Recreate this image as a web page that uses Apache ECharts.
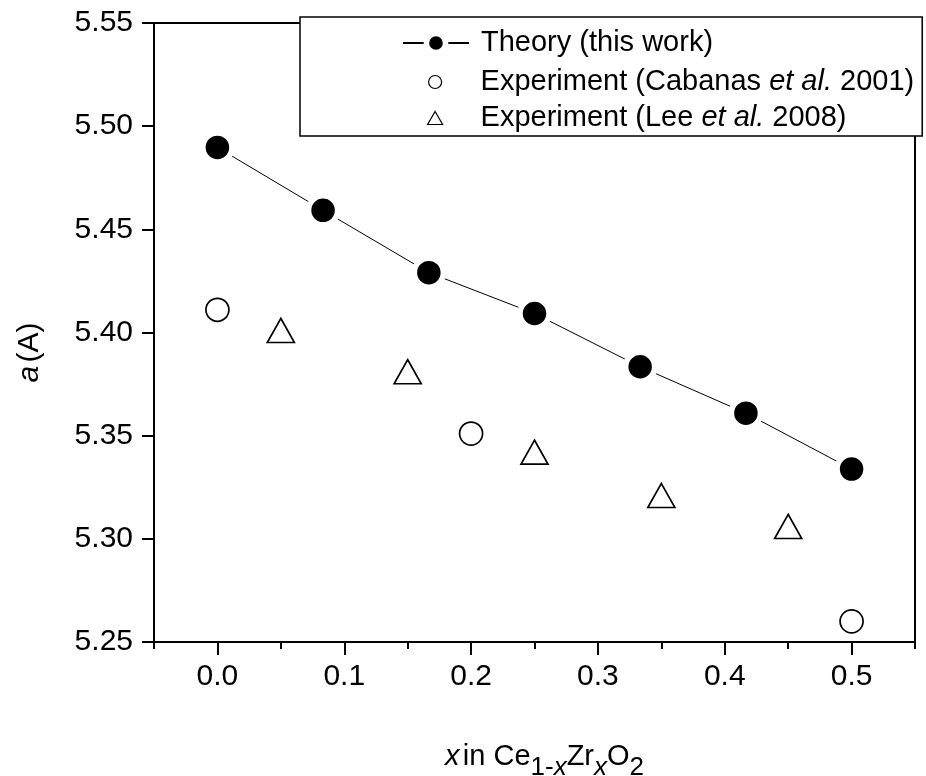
<!DOCTYPE html>
<html>
<head>
<meta charset="utf-8">
<script src="https://cdn.jsdelivr.net/npm/echarts@6/dist/echarts.min.js"></script>
<style>
html,body{margin:0;padding:0;background:#fff;}
#chart{width:926px;height:776px;}
</style>
</head>
<body>
<div id="chart"></div>
<script>
// ---- data ----
const theoryX = [0, 0.0833, 0.1667, 0.25, 0.3333, 0.4167, 0.5];
const theoryY = [5.4897, 5.4592, 5.4290, 5.4092, 5.3834, 5.3609, 5.3338];
const cabanasX = [0, 0.2, 0.5];
const cabanasY = [5.411, 5.351, 5.260];
const leeX = [0.05, 0.15, 0.25, 0.35, 0.45];
const leeY = [5.401, 5.381, 5.342, 5.321, 5.306];
const xMajorTicks = [0, 0.1, 0.2, 0.3, 0.4, 0.5];
const xMinorTicks = [-0.05, 0.05, 0.15, 0.25, 0.35, 0.45, 0.55];
const seriesNames = ['Theory (this work)', 'Experiment (Cabanas et al. 2001)', 'Experiment (Lee et al. 2008)'];

const pair = (xs, ys) => xs.map((x, i) => [x, ys[i]]);
const FONT = 'Liberation Sans';
const legendText = (size, padLeft) => ({
  fontFamily: FONT, fontSize: size, color: '#000', lineHeight: 30, padding: [0, 0, 0, padLeft],
  rich: {i: {fontFamily: FONT, fontSize: size, fontStyle: 'italic', color: '#000', lineHeight: 30}}
});
const italicEtAl = name => name.replace('et al.', '{i|et al.}');

const chart = echarts.init(document.getElementById('chart'), null, {renderer: 'canvas'});
chart.setOption({
  animation: false,
  backgroundColor: '#fff',
  textStyle: {fontFamily: FONT, color: '#000'},
  grid: {left: 154, right: 11, top: 23, bottom: 134, outerBoundsMode: 'none', containLabel: false,
    show: true, borderColor: '#000', borderWidth: 2, backgroundColor: 'transparent'},
  legend: [{
    // box + experiment entries
    orient: 'vertical',
    left: 300, top: 17,
    padding: [50, 8, 3, 127],
    itemGap: 6,
    itemWidth: 15, itemHeight: 13,
    backgroundColor: '#fff',
    borderColor: '#000', borderWidth: 1.5, borderRadius: 0,
    selectedMode: false,
    data: [
      {name: seriesNames[1], itemStyle: {borderWidth: 1.2}},
      {name: seriesNames[2], itemStyle: {borderWidth: 1.2}}
    ],
    textStyle: legendText(29, 33),
    formatter: italicEtAl,
    z: 10
  }, {
    // theory entry (line + symbol icon)
    orient: 'vertical',
    left: 402, top: 28,
    padding: 0,
    itemWidth: 66, itemHeight: 24,
    selectedMode: false,
    data: [{name: seriesNames[0], itemStyle: {borderColor: '#fff', borderWidth: 5.5}}],
    textStyle: legendText(29, 7),
    formatter: italicEtAl,
    z: 11
  }],
  xAxis: [{
    type: 'value', min: -0.05, max: 0.55, position: 'bottom',
    splitLine: {show: false},
    axisLine: {show: true, onZero: false, lineStyle: {color: '#000', width: 2}},
    axisTick: {show: true, inside: false, length: 13, lineStyle: {color: '#000', width: 2}, customValues: xMajorTicks},
    axisLabel: {show: true, margin: 20, fontFamily: FONT, fontSize: 30, color: '#000', customValues: xMajorTicks,
      formatter: v => v.toFixed(1)},
    name: '{i|x} {n|in Ce}{s|1-}{si|x}{n|Zr}{si|x}{n|O}{s|2}',
    nameLocation: 'middle', nameGap: 100,
    nameTextStyle: {
      padding: [0, 0, 0, 20],
      rich: {
        i: {fontFamily: FONT, fontSize: 29, fontStyle: 'italic', color: '#000', lineHeight: 30, verticalAlign: 'top'},
        n: {fontFamily: FONT, fontSize: 29, color: '#000', lineHeight: 30, verticalAlign: 'top'},
        s: {fontFamily: FONT, fontSize: 26, color: '#000', lineHeight: 25, padding: [13, 0, 0, 0], verticalAlign: 'top'},
        si: {fontFamily: FONT, fontSize: 26, fontStyle: 'italic', color: '#000', lineHeight: 25, padding: [13, 0, 0, 0], verticalAlign: 'top'}
      }
    }
  }, {
    type: 'value', min: -0.05, max: 0.55, position: 'bottom', offset: 0,
    splitLine: {show: false},
    axisLine: {show: false},
    axisTick: {show: true, inside: false, length: 7, lineStyle: {color: '#000', width: 2}, customValues: xMinorTicks},
    axisLabel: {show: false}
  }],
  yAxis: {
    type: 'value', min: 5.25, max: 5.55, interval: 0.05,
    splitLine: {show: false},
    axisLine: {show: true, onZero: false, lineStyle: {color: '#000', width: 2}},
    axisTick: {show: true, inside: false, length: 12, lineStyle: {color: '#000', width: 2}},
    axisLabel: {margin: 21, fontFamily: FONT, fontSize: 30, color: '#000', formatter: v => v.toFixed(2)},
    name: '{i|a} {n|(A)}',
    nameLocation: 'middle', nameGap: 109,
    nameTextStyle: {
      padding: [0, 40, 0, 0],
      rich: {
        i: {fontFamily: FONT, fontSize: 30, fontStyle: 'italic', color: '#000'},
        n: {fontFamily: FONT, fontSize: 30, color: '#000'}
      }
    }
  },
  series: [{
    name: seriesNames[0], type: 'line',
    data: pair(theoryX, theoryY),
    symbol: 'circle', symbolSize: 29,
    lineStyle: {color: '#000', width: 1},
    itemStyle: {color: '#000', borderColor: '#fff', borderWidth: 5.5},
    emphasis: {disabled: true}, z: 3
  }, {
    name: seriesNames[1], type: 'scatter',
    data: pair(cabanasX, cabanasY),
    symbol: 'circle', symbolSize: 23,
    itemStyle: {color: '#fff', borderColor: '#000', borderWidth: 1.7, opacity: 1},
    emphasis: {disabled: true}, z: 3
  }, {
    name: seriesNames[2], type: 'scatter',
    data: pair(leeX, leeY),
    symbol: 'triangle', symbolSize: [27, 24],
    itemStyle: {color: '#fff', borderColor: '#000', borderWidth: 1.7, opacity: 1},
    emphasis: {disabled: true}, z: 3
  }]
});
</script>
</body>
</html>
